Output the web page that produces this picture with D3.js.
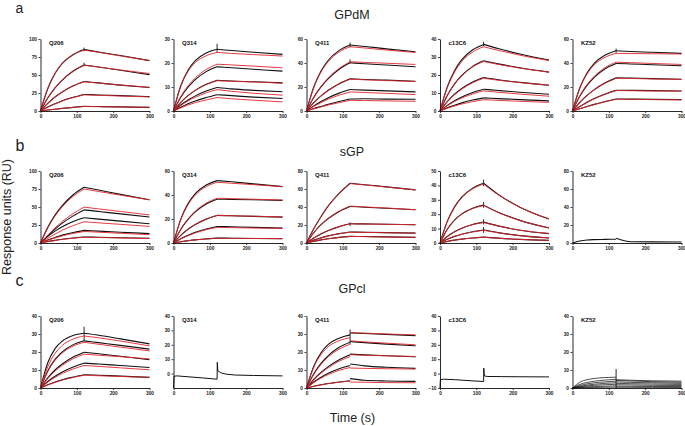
<!DOCTYPE html>
<html>
<head>
<meta charset="utf-8">
<script src="https://cdn.jsdelivr.net/npm/d3@7"></script>
<style>
  body { margin: 0; background: #fff; }
  text { font-family: Arial, "Liberation Sans", sans-serif; }
</style>
</head>
<body>
<svg id="chart" width="685" height="426"></svg>
<script>
// sample times (s); 120 appears twice: end of association, start of dissociation
const times = [0, 20, 40, 60, 90, 120, 120, 160, 220, 300];
const xTicks = [0, 100, 200, 300];

const antibodies = ['Q206', 'Q314', 'Q411', 'c13C6', 'KZ52'];
const rowTitles = ['GPdM', 'sGP', 'GPcl'];
const rowLetters = ['a', 'b', 'c'];

const yMin = [[0, 0, 0, 0, 0], [0, 0, 0, 0, 0], [0, -10, 0, -10, 0]];
const yMax = [[100, 30, 60, 40, 60], [100, 60, 80, 50, 80], [40, 40, 40, 40, 40]];
const yTicks = [
  [[0, 25, 50, 75, 100], [0, 10, 20, 30], [0, 20, 40, 60], [0, 10, 20, 30, 40], [0, 20, 40, 60]],
  [[0, 25, 50, 75, 100], [0, 20, 40, 60], [0, 20, 40, 60, 80], [0, 10, 20, 30, 40, 50], [0, 20, 40, 60, 80]],
  [[0, 10, 20, 30, 40], [0, 10, 20, 30, 40], [0, 10, 20, 30, 40], [-10, 0, 10, 20, 30, 40], [0, 10, 20, 30, 40]]
];

// ---- GPdM ----
const gpdmQ206Data = [
  [0, 31, 52, 66, 78.5, 85.5, 85.5, 82, 77, 70],
  [0, 18, 32, 43, 55.5, 64, 64, 61, 56.5, 50.5],
  [0, 10.5, 19.5, 26.5, 35, 41, 41, 39, 36, 32.5],
  [0, 5.5, 10, 14.3, 19, 23, 23, 22.3, 21.3, 20],
  [0, 1.3, 2.5, 3.6, 5.1, 6.5, 6.5, 6.2, 5.7, 5]
];
const gpdmQ206Fit = [
  [0, 31.5, 52.5, 66, 78, 84.5, 84.5, 81.5, 76.5, 70],
  [0, 18, 32, 43, 55, 63.5, 63.5, 61, 57, 52],
  [0, 10.5, 19.5, 26.5, 35, 40.5, 40.5, 38.8, 36, 33],
  [0, 5.4, 9.9, 14, 18.7, 22.5, 22.5, 21.8, 20.8, 19.5],
  [0, 1.3, 2.5, 3.5, 5, 6.2, 6.2, 6, 5.6, 5.1]
];
const gpdmQ314Data = [
  [0, 10.5, 17, 21, 24.2, 25.7, 25.7, 25.2, 24.5, 23.6],
  [0, 5.7, 9.9, 13.1, 16.4, 18.4, 18.4, 18, 17.4, 16.6],
  [0, 3.6, 6.4, 8.6, 11.1, 12.8, 12.8, 12.5, 12.2, 11.7],
  [0, 2.5, 4.6, 6.3, 8.3, 9.8, 9.8, 9.2, 8.6, 8],
  [0, 1.6, 3, 4.2, 5.6, 6.8, 6.8, 6.4, 5.8, 5.2]
];
const gpdmQ314Fit = [
  [0, 10.3, 16.5, 20.2, 23, 24.4, 24.4, 24, 23.5, 22.9],
  [0, 6, 10.5, 13.8, 17.3, 19.5, 19.5, 19.2, 18.7, 18],
  [0, 3.6, 6.4, 8.6, 11, 12.6, 12.6, 12.4, 12.1, 11.6],
  [0, 2.3, 4.2, 5.7, 7.6, 8.9, 8.9, 8.2, 7.4, 6.6],
  [0, 1.3, 2.5, 3.5, 4.6, 5.6, 5.6, 5.1, 4.5, 3.8]
];
const gpdmQ411Data = [
  [0, 20, 33.3, 42.3, 50.5, 55, 55, 53.8, 51.8, 49.4],
  [0, 11.3, 20.1, 27, 34.8, 40.2, 40.2, 39.4, 38.3, 36.8],
  [0, 7, 12.6, 17.3, 22.8, 26.8, 26.8, 26.3, 25.7, 24.8],
  [0, 4.3, 7.9, 11.1, 14.9, 17.9, 17.9, 17.4, 16.8, 15.9],
  [0, 2, 3.8, 5.6, 7.9, 10, 10, 10.2, 9.9, 9.8]
];
const gpdmQ411Fit = [
  [0, 19.5, 32.5, 41.2, 49.2, 53.6, 53.6, 52.5, 50.8, 48.8],
  [0, 11.5, 20.5, 27.5, 35.5, 41, 41, 40.5, 39.8, 38.8],
  [0, 6.9, 12.5, 17.1, 22.5, 26.5, 26.5, 26, 25.4, 24.6],
  [0, 3.8, 7, 9.9, 13.2, 15.9, 15.9, 15.4, 14.7, 13.7],
  [0, 1.8, 3.4, 5, 7, 8.9, 8.9, 8.7, 8.4, 8.1]
];
const gpdmC13C6Data = [
  [0, 13.4, 22.4, 28.5, 34, 37, 37, 34.7, 31.7, 28.3],
  [0, 8.6, 15.1, 19.8, 24.8, 27.9, 27.9, 26.2, 24, 21.6],
  [0, 5.2, 9.3, 12.5, 16.1, 18.6, 18.6, 17.4, 15.9, 14.3],
  [0, 3.1, 5.7, 7.8, 10.3, 12.1, 12.1, 11.4, 10.4, 9.3],
  [0, 1.8, 3.2, 4.5, 6.1, 7.3, 7.3, 6.9, 6.3, 5.6]
];
const gpdmC13C6Fit = [
  [0, 12.9, 21.6, 27.5, 32.8, 35.7, 35.7, 33.7, 31, 28],
  [0, 8.5, 14.9, 19.5, 24.5, 27.5, 27.5, 25.9, 23.8, 21.6],
  [0, 5.1, 9.1, 12.2, 15.7, 18.2, 18.2, 17.1, 15.8, 14.3],
  [0, 2.9, 5.3, 7.2, 9.5, 11.2, 11.2, 10.4, 9.4, 8.2],
  [0, 1.5, 2.8, 3.9, 5.2, 6.3, 6.3, 5.9, 5.4, 4.8]
];
const gpdmKZ52Data = [
  [0, 19.2, 31.6, 39.7, 46.6, 50.2, 50.2, 49.6, 48.9, 48],
  [0, 12.3, 21.4, 28.1, 35.2, 39.6, 39.6, 39.2, 38.5, 37.7],
  [0, 7.2, 13, 17.8, 23.5, 27.6, 27.6, 27.4, 27, 26.5],
  [0, 3.8, 7.3, 10.4, 14.2, 17.3, 17.3, 17.2, 17, 16.7],
  [0, 1.9, 3.7, 5.5, 7.9, 10, 10, 9.9, 9.7, 9.5]
];
const gpdmKZ52Fit = [
  [0, 18.8, 30.8, 38.5, 44.8, 48, 48, 47.9, 47.7, 47.5],
  [0, 12.6, 22, 28.9, 36.2, 40.7, 40.7, 40.3, 39.6, 38.8],
  [0, 7.1, 12.8, 17.6, 23.2, 27.3, 27.3, 27.1, 26.7, 26.3],
  [0, 3.7, 7.1, 10.2, 13.9, 17, 17, 16.9, 16.7, 16.5],
  [0, 1.9, 3.6, 5.4, 7.7, 9.8, 9.8, 9.7, 9.5, 9.3]
];

// ---- sGP ----
const sgpQ206Data = [
  [0, 21.7, 38.7, 51.9, 67, 77.4, 77.4, 73.5, 67.5, 60],
  [0, 10, 19.3, 27.6, 37.7, 46, 46, 43.8, 40.4, 36],
  [0, 9.1, 16.5, 22.6, 29.8, 35, 35, 33.2, 30.4, 26.7],
  [0, 4.2, 7.7, 10.9, 14.5, 17.5, 17.5, 16.5, 15, 13],
  [0, 2, 3.7, 5.1, 6.9, 8.3, 8.3, 7.9, 7.3, 6.5]
];
const sgpQ206Fit = [
  [0, 21, 37.5, 50.3, 64.9, 75, 75, 71.5, 66.5, 60],
  [0, 11, 20.9, 29.9, 40.8, 49.8, 49.8, 47.4, 43.8, 39],
  [0, 6.5, 12.4, 17.7, 24.2, 29.5, 29.5, 28, 25.9, 23],
  [0, 3.8, 7, 9.9, 13.3, 16, 16, 15, 13.5, 11.5],
  [0, 1.9, 3.5, 5, 6.6, 8, 8, 7.6, 7, 6.3]
];
const sgpQ314Data = [
  [0, 19.9, 32.8, 41.1, 48.3, 52, 52, 51, 49.3, 47],
  [0, 11.3, 19.7, 25.9, 32.5, 36.5, 36.5, 36.3, 36, 35.5],
  [0, 6.4, 11.5, 15.4, 19.9, 23, 23, 22.7, 22.2, 21.6],
  [0, 3.6, 6.5, 8.9, 11.7, 13.8, 13.8, 13.5, 13, 12.4],
  [0, 1.1, 1.9, 2.6, 3.4, 4.1, 4.1, 4, 3.8, 3.6]
];
const sgpQ314Fit = [
  [0, 19.4, 31.9, 40, 47, 50.6, 50.6, 49.8, 48.6, 47],
  [0, 11.6, 20.1, 26.5, 33.2, 37.3, 37.3, 37, 36.5, 35.8],
  [0, 6.4, 11.5, 15.4, 19.9, 23, 23, 22.7, 22.3, 21.8],
  [0, 3.4, 6.1, 8.4, 11.1, 13, 13, 12.8, 12.5, 12.2],
  [0, 1, 1.9, 2.6, 3.4, 4, 4, 3.9, 3.8, 3.6]
];
const sgpQ411Data = [
  [0, 15.9, 29.2, 41.2, 55.1, 66.4, 66.4, 64.8, 62.4, 59],
  [0, 11.4, 20.3, 27.2, 35.1, 40.6, 40.6, 39.8, 38.6, 36.9],
  [0, 5.6, 10.1, 13.8, 18.2, 21.4, 21.4, 21.2, 20.8, 20.3],
  [0, 3.2, 5.7, 7.9, 10.4, 12.2, 12.2, 11.9, 11.5, 11],
  [0, 1.9, 3.5, 4.8, 6.3, 7.4, 7.4, 7.2, 6.8, 6.3]
];
const sgpQ411Fit = [
  [0, 16, 29.3, 41.3, 55.2, 66, 66, 64.5, 62.2, 59],
  [0, 11.5, 20.5, 27.5, 35.5, 41, 41, 40.1, 38.9, 37],
  [0, 5.6, 10.1, 13.8, 18.2, 21.3, 21.3, 21.1, 20.8, 20.3],
  [0, 3.1, 5.6, 7.8, 10.3, 12, 12, 11.8, 11.4, 11],
  [0, 1.9, 3.4, 4.7, 6.2, 7.3, 7.3, 7.1, 6.7, 6.3]
];
const sgpC13C6Data = [
  [0, 15, 25.1, 31.9, 38.1, 41.5, 41.5, 33.8, 24.9, 16.6],
  [0, 9.5, 15.9, 20.2, 24.2, 26.3, 26.3, 21.4, 15.7, 10.4],
  [0, 4.5, 7.8, 10.3, 12.9, 14.5, 14.5, 11.9, 8.9, 6.5],
  [0, 2.6, 4.6, 6.1, 7.8, 9, 9, 7.2, 5.1, 3.5],
  [0, 1.1, 2, 2.7, 3.5, 4.1, 4.1, 3.4, 2.5, 1.8]
];
const sgpC13C6Fit = [
  [0, 14.8, 24.8, 31.5, 37.6, 41, 41, 33.5, 24.8, 16.8],
  [0, 9.4, 15.8, 20, 24, 26, 26, 21.2, 15.6, 10.5],
  [0, 4.4, 7.7, 10.2, 12.8, 14.3, 14.3, 11.8, 8.9, 6.6],
  [0, 2.6, 4.6, 6.1, 7.7, 8.8, 8.8, 7.1, 5.1, 3.6],
  [0, 1.1, 2, 2.7, 3.5, 4, 4, 3.3, 2.5, 1.8]
];
const sgpKZ52Data = [
  [0, 2.2, 3.4, 3.8, 4, 4.2, 5.2, 1.4, 1.2, 1.1]
];

// ---- GPcl ----
const gpclQ206Data = [
  [0, 14, 21.9, 26.1, 29.2, 30.4, 30.4, 29.3, 27.3, 24.5],
  [0, 9.5, 15.9, 20.1, 24.1, 26.2, 26.2, 25.2, 23.7, 21.6],
  [0, 5.6, 10, 13.3, 17.2, 19.9, 19.9, 19, 17.6, 15.7],
  [0, 3.6, 6.5, 8.9, 11.7, 13.8, 13.8, 13.3, 12.5, 11.4],
  [0, 1.8, 3.3, 4.6, 6.1, 7.4, 7.4, 7.1, 6.6, 5.9]
];
const gpclQ206Fit = [
  [0, 11.8, 19.2, 23.7, 27.2, 28.9, 28.9, 27.9, 26.1, 23.4],
  [0, 9.2, 15.4, 19.5, 23.3, 25.4, 25.4, 24.3, 22.7, 20.6],
  [0, 5.3, 9.4, 12.6, 16.3, 18.8, 18.8, 18.2, 17.4, 16.2],
  [0, 3.3, 5.9, 8.1, 10.6, 12.5, 12.5, 12, 11.2, 10.1],
  [0, 1.7, 3.1, 4.4, 5.9, 7.1, 7.1, 6.8, 6.4, 5.9]
];
const gpclQ411Data = [
  [0, 12.1, 19.6, 24.2, 27.7, 29.5, 30.6, 30.3, 29.8, 29.1],
  [0, 7.9, 13.7, 18, 22.6, 25.4, 25.8, 25.2, 24.4, 23.4],
  [0, 4.8, 8.7, 11.9, 15.7, 18.5, 18.8, 18.4, 17.9, 17.3],
  [0, 3.3, 6, 8.2, 10.7, 12.5, 13.3, 12.3, 11.5, 10.9],
  [0, 1, 1.8, 2.5, 3.3, 4, 5.2, 4.3, 3.9, 3.7]
];
const gpclQ411Fit = [
  [0, 11.5, 18.6, 23, 26.3, 28, 30.8, 30.5, 30, 29.5],
  [0, 7.5, 13.1, 17.3, 21.6, 24.3, 26.2, 25.6, 24.9, 24],
  [0, 4.6, 8.2, 11.3, 14.9, 17.5, 18.5, 18.2, 17.9, 17.5],
  [0, 3, 5.5, 7.5, 9.8, 11.4, 11.1, 10.9, 10.7, 10.5],
  [0, 0.9, 1.7, 2.4, 3.2, 3.9, 3.3, 3.2, 3, 2.9]
];
const gpclKZ52Data = [
  [0, 3.2, 4.6, 5.3, 5.8, 6, 4.6, 4.3, 4, 3.8],
  [0, 2, 3.1, 3.8, 4.4, 4.8, 4.2, 3.9, 3.5, 3.2],
  [0, 1.4, 2.3, 2.9, 3.4, 3.8, 3.4, 3.1, 2.9, 2.6],
  [0, 0.9, 1.6, 2.1, 2.6, 2.9, 2.6, 2.4, 2.2, 2],
  [0, 0.6, 1.1, 1.5, 1.8, 2.1, 1.8, 1.7, 1.5, 1.4],
  [0, 0.3, 0.6, 0.8, 1, 1.2, 1, 0.95, 0.85, 0.8],
  [0, 0.1, 0.2, 0.3, 0.4, 0.5, 0.4, 0.37, 0.33, 0.3]
];
// single raw traces with their own time points
const gpclQ314Times = [0, 1.5, 10, 40, 80, 120, 120.5, 122, 130, 145, 170, 220, 300];
const gpclQ314Values = [-10, -1.8, -1.6, -2.2, -3, -3.9, 7.8, 2, 0.6, -0.4, -1, -1.3, -1.6];
const gpclC13C6Times = [0, 1, 10, 40, 80, 120, 120.5, 122, 130, 170, 220, 300];
const gpclC13C6Values = [-10, -4.2, -3.9, -4.2, -4.9, -5.5, 3.8, -1.6, -2, -2.1, -2.2, -2.3];

// injection-end artefacts at t = 120: [low, high]
const gpdmSpikes = [[[83, 88], [62, 67]], [[24.5, 28]], [[53, 57], [39.5, 43]], [[36, 38.5]], [[48.5, 52]]];
const sgpSpikes = [[], [], [[19, 23]], [[39.5, 44], [24.5, 28.5], [13, 16.5], [7, 11]], []];
const gpclSpikes = [[[26, 34]], [], [[24.5, 32.5]], [], [[0, 10.5]]];

const panelData = [
  [gpdmQ206Data, gpdmQ314Data, gpdmQ411Data, gpdmC13C6Data, gpdmKZ52Data],
  [sgpQ206Data, sgpQ314Data, sgpQ411Data, sgpC13C6Data, sgpKZ52Data],
  [gpclQ206Data, [], gpclQ411Data, [], gpclKZ52Data]
];
const panelFits = [
  [gpdmQ206Fit, gpdmQ314Fit, gpdmQ411Fit, gpdmC13C6Fit, gpdmKZ52Fit],
  [sgpQ206Fit, sgpQ314Fit, sgpQ411Fit, sgpC13C6Fit, []],
  [gpclQ206Fit, [], gpclQ411Fit, [], []]
];
const panelRaw = [
  [null, null, null, null, null],
  [null, null, null, null, null],
  [null, [gpclQ314Times, gpclQ314Values], null, [gpclC13C6Times, gpclC13C6Values], null]
];
const panelSpikes = [gpdmSpikes, sgpSpikes, gpclSpikes];

// layout
const colX = [40.5, 173.5, 306.5, 440, 572.5];
const rowTop = [39, 171, 316];
const plotW = 109, plotH = 72;
const RED = '#e3242b';

const svg = d3.select('#chart');

const x = d3.scaleLinear().domain([0, 300]).range([0, plotW]);

rowTitles.forEach((title, r) => {
  antibodies.forEach((name, c) => {
    const g = svg.append('g').attr('transform', `translate(${colX[c]},${rowTop[r]})`);
    const y = d3.scaleLinear().domain([yMin[r][c], yMax[r][c]]).range([plotH, 0]);

    const line = d3.line()
      .x(d => x(d[0]))
      .y(d => y(d[1]))
      .curve(d3.curveMonotoneX);

    function drawCurve(vals, color, width) {
      [[0, 6], [6, 10]].forEach(([a, b]) => {
        g.append('path')
          .datum(d3.zip(times.slice(a, b), vals.slice(a, b)))
          .attr('d', line)
          .attr('fill', 'none')
          .attr('stroke', color)
          .attr('stroke-width', width);
      });
    }

    // measured sensorgrams (thinner where there are many)
    const dataW = panelData[r][c].length > 5 ? 0.75 : 1.1;
    panelData[r][c].forEach(vals => drawCurve(vals, '#111', dataW));

    if (panelRaw[r][c]) {
      const [ts, vs] = panelRaw[r][c];
      g.append('path')
        .datum(d3.zip(ts, vs))
        .attr('d', line.curve(d3.curveLinear))
        .attr('fill', 'none')
        .attr('stroke', '#111')
        .attr('stroke-width', 1);
      line.curve(d3.curveMonotoneX);
    }

    panelSpikes[r][c].forEach(([lo, hi]) => {
      g.append('line')
        .attr('x1', x(120)).attr('x2', x(120))
        .attr('y1', y(lo)).attr('y2', y(hi))
        .attr('stroke', '#111')
        .attr('stroke-width', 0.9);
    });

    // fitted curves on top
    panelFits[r][c].forEach(vals => drawCurve(vals, RED, 0.9));

    // axes
    const yAxis = g.append('g')
      .call(d3.axisLeft(y).tickValues(yTicks[r][c]).tickSize(2).tickSizeOuter(0).tickPadding(1.5));
    const xAxis = g.append('g')
      .attr('transform', `translate(0,${plotH})`)
      .call(d3.axisBottom(x).tickValues(xTicks).tickSize(2).tickSizeOuter(0).tickPadding(1.5));

    [yAxis, xAxis].forEach(ax => {
      ax.attr('font-size', 4.8)
        .attr('font-weight', 'bold')
        .attr('font-family', 'Arial, "Liberation Sans", sans-serif');
      ax.select('.domain').attr('stroke', '#111').attr('stroke-width', 0.9);
      ax.selectAll('.tick line').attr('stroke', '#111').attr('stroke-width', 0.8);
      ax.selectAll('.tick text').attr('fill', '#222');
    });

    g.append('text')
      .attr('x', 8.5)
      .attr('y', 6)
      .attr('font-size', 6)
      .attr('font-weight', 'bold')
      .attr('fill', '#111')
      .text(name);
  });
});

// row titles and letters
const titleY = [19.3, 156, 293];
const letterY = [12.5, 151, 285.5];
const letterSize = [14, 16, 16];
rowTitles.forEach((t, r) => {
  svg.append('text')
    .attr('x', 352).attr('y', titleY[r])
    .attr('text-anchor', 'middle')
    .attr('font-size', 12.5)
    .attr('fill', '#222')
    .text(t);
  svg.append('text')
    .attr('x', 15.5).attr('y', letterY[r])
    .attr('font-size', letterSize[r])
    .attr('fill', '#222')
    .text(rowLetters[r]);
});

svg.append('text')
  .attr('transform', 'translate(11,217) rotate(-90)')
  .attr('text-anchor', 'middle')
  .attr('font-size', 12.5)
  .attr('fill', '#222')
  .text('Response units (RU)');

svg.append('text')
  .attr('x', 352.5).attr('y', 422)
  .attr('text-anchor', 'middle')
  .attr('font-size', 12.5)
  .attr('fill', '#222')
  .text('Time (s)');
</script>
</body>
</html>
